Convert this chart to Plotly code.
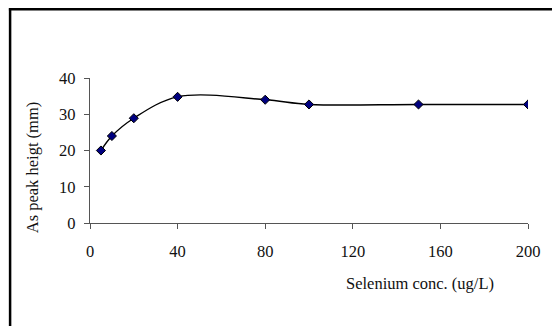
import plotly.graph_objects as go

conc = [5, 10, 20, 40, 80, 100, 150, 200]
peak = [20.0, 24.0, 28.9, 34.8, 34.0, 32.7, 32.7, 32.7]
x_ticks = [0, 40, 80, 120, 160, 200]
y_ticks = [0, 10, 20, 30, 40]

W, H = 552, 326
L, R, T, B = 90, 23.5, 78, 103.3
pw, ph = W - L - R, H - T - B

def px_x(p):
    return (p - L) / pw

def px_y(p):
    return (H - B - p) / ph

font = dict(family="Liberation Serif, Times New Roman, serif", size=16.5, color="#111")

fig = go.Figure(go.Scatter(
    x=conc, y=peak, mode="lines+markers",
    line=dict(color="black", width=1.4, shape="spline", smoothing=1.0),
    marker=dict(symbol="diamond", size=7, color="#000080", line=dict(color="black", width=1)),
    showlegend=False,
))

axis_common = dict(showgrid=False, zeroline=False, showline=True, linecolor="#555", linewidth=1.2,
                   ticks="outside", ticklen=5, tickcolor="#555", tickwidth=1.2, tickfont=font)

fig.update_xaxes(range=[0, 200], tickvals=x_ticks, ticklabelstandoff=8, **axis_common)
fig.update_yaxes(range=[0, 40], tickvals=y_ticks, ticklabelstandoff=5, **axis_common)

fig.add_annotation(text="Selenium conc. (ug/L)", xref="paper", yref="paper",
                   x=px_x(420.5), y=px_y(283), showarrow=False, font=font,
                   xanchor="center", yanchor="middle")
fig.add_annotation(text="As peak heigt (mm)", xref="paper", yref="paper",
                   x=px_x(32), y=px_y(167), showarrow=False, font=font, textangle=-90,
                   xanchor="center", yanchor="middle")

border = dict(color="black", width=2.5)
fig.add_shape(type="line", xref="paper", yref="paper",
              x0=px_x(10), x1=px_x(10), y0=px_y(340), y1=px_y(8.3), line=border, layer="above")
fig.add_shape(type="line", xref="paper", yref="paper",
              x0=px_x(8.8), x1=px_x(560), y0=px_y(9.5), y1=px_y(9.5), line=border, layer="above")

fig.update_layout(width=W, height=H, margin=dict(l=L, r=R, t=T, b=B),
                  paper_bgcolor="white", plot_bgcolor="white")

fig.write_html("out.html", config={"displayModeBar": False},
               post_script="document.body.style.margin='0';document.body.style.padding='0';")
